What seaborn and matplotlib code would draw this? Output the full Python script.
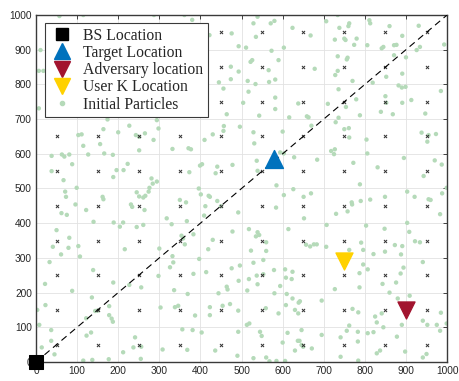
import numpy as np
import pandas as pd
import matplotlib
matplotlib.use("Agg")
import matplotlib.pyplot as plt
import seaborn as sns
from matplotlib.lines import Line2D

# Node positions
bs_xy = (0, 0)
target_xy = (580, 585)
adversary_xy = (900, 150)
user_k_xy = (750, 290)

# Anchor grid (cell centres)
anchor_ticks = [50, 150, 250, 350, 450, 550, 650, 750, 850, 950]

# Reference diagonal
diag_x = [0, 1000]
diag_y = [0, 1000]

axis_ticks = [0, 100, 200, 300, 400, 500, 600, 700, 800, 900, 1000]

# Initial particle cloud (x, y)
particles = [
    (57, 997), (115, 1000), (287, 1000), (11, 899), (7, 839), (18, 839), (7, 731), (174, 699), (294, 697), (227, 681),
    (361, 1000), (380, 986), (476, 947), (539, 995), (529, 976), (571, 976), (580, 983), (535, 937), (493, 910),
    (511, 906), (624, 963), (603, 906), (573, 897), (422, 942), (474, 851), (493, 837), (522, 865), (526, 870),
    (590, 870), (566, 841), (445, 806), (474, 815), (456, 788), (515, 810), (534, 801), (567, 807), (582, 814),
    (517, 779), (504, 747), (582, 762), (582, 729), (543, 710), (464, 714), (616, 705), (638, 745), (457, 680),
    (496, 678),
    (734, 1000), (706, 982), (762, 976), (760, 968), (738, 963), (750, 932), (753, 928), (727, 929), (780, 932),
    (774, 914), (811, 985), (813, 976), (860, 968), (891, 940), (931, 969), (806, 913), (841, 904), (845, 908),
    (871, 913), (877, 914), (934, 908), (926, 899), (993, 915), (668, 941), (734, 881), (758, 877), (756, 872),
    (871, 884), (900, 878), (678, 845), (728, 827), (734, 839), (891, 831), (770, 810), (819, 805), (852, 822),
    (882, 797), (890, 791), (899, 793), (736, 786), (985, 781), (779, 757), (850, 766), (852, 747), (710, 744),
    (754, 735), (788, 711), (839, 721), (868, 714), (891, 747), (913, 755), (947, 716), (736, 704), (659, 708),
    (663, 705), (670, 681), (729, 691),
    (111, 656), (103, 654), (164, 671), (200, 662), (243, 654), (251, 649), (265, 659), (298, 673), (286, 640),
    (115, 623), (156, 628), (251, 610), (38, 594), (63, 598), (69, 592), (81, 598), (127, 598), (166, 601),
    (187, 597), (88, 570), (38, 550), (196, 553), (213, 553), (223, 571), (188, 533), (67, 524), (99, 502),
    (281, 529), (294, 520), (284, 514), (276, 502), (71, 491), (73, 476), (162, 476), (164, 469), (245, 489),
    (251, 477), (261, 474), (266, 479), (274, 491), (96, 454), (231, 454), (234, 447), (264, 438), (122, 438),
    (62, 429), (75, 424), (140, 404), (189, 402), (212, 402), (204, 390), (245, 389), (261, 395), (50, 380),
    (81, 358),
    (456, 666), (430, 656), (529, 662), (600, 664), (410, 640), (531, 630), (332, 614), (371, 616), (377, 613),
    (399, 566), (404, 570), (441, 563), (437, 544), (478, 568), (373, 547), (537, 580), (539, 551), (594, 604),
    (603, 601), (628, 590), (585, 509), (626, 498), (603, 481), (396, 500), (401, 483), (420, 479), (423, 476),
    (441, 464), (350, 467), (365, 460), (412, 449), (450, 449), (584, 445), (492, 431), (409, 422), (318, 414),
    (367, 406), (330, 397), (383, 368), (354, 364), (358, 356), (478, 376), (518, 383), (539, 374), (543, 366),
    (535, 362), (560, 345), (614, 383), (430, 352),
    (750, 671), (761, 674), (762, 647), (804, 641), (938, 661), (955, 654), (973, 657), (952, 635), (718, 608),
    (727, 613), (725, 599), (806, 601), (684, 583), (772, 574), (895, 588), (831, 561), (970, 581), (987, 569),
    (943, 536), (788, 512), (999, 502), (651, 476), (669, 486), (903, 491), (921, 476), (988, 486), (955, 469),
    (960, 467), (849, 476), (813, 468), (790, 464), (768, 460), (769, 454), (758, 434), (730, 427), (652, 414),
    (983, 426), (707, 395), (803, 393), (848, 384), (903, 401), (908, 375), (922, 348), (934, 345),
    (41, 332), (79, 329), (61, 310), (103, 334), (107, 304), (33, 288), (139, 265), (22, 225), (88, 205),
    (188, 229), (216, 325), (300, 327), (298, 248), (256, 215), (227, 222), (136, 186), (23, 164), (3, 150),
    (144, 147), (150, 148), (178, 161), (122, 126), (178, 135), (184, 125), (187, 116), (8, 107), (37, 92),
    (303, 157), (134, 85), (123, 76), (241, 71), (237, 42), (256, 44), (37, 61), (14, 42), (45, 22), (212, 28),
    (308, 36), (115, 4), (137, 6), (177, 8), (255, 9),
    (362, 339), (332, 305), (334, 287), (326, 273), (397, 297), (419, 325), (523, 321), (560, 320), (496, 278),
    (476, 270), (529, 286), (553, 294), (579, 265), (606, 267), (624, 260), (383, 254), (414, 259), (493, 234),
    (518, 239), (537, 249), (539, 224), (553, 253), (608, 243), (622, 239), (594, 219), (336, 207), (369, 196),
    (464, 217), (466, 209), (444, 198), (514, 206), (580, 198), (610, 196), (624, 183),
    (338, 158), (346, 162), (356, 94), (368, 35), (387, 134), (381, 92), (403, 85), (423, 135), (423, 158),
    (454, 162), (472, 167), (436, 33), (490, 18), (492, 87), (492, 148), (513, 107), (519, 111), (529, 11),
    (545, 87), (549, 75), (559, 155), (560, 13), (568, 2), (585, 3), (590, 140), (600, 56), (606, 3), (612, 84),
    (608, 164), (630, 33), (630, 150), (638, 140), (639, 171), (642, 175), (637, 61), (641, 61), (646, 92),
    (646, 49), (650, 44),
    (657, 338), (667, 333), (676, 339), (683, 339), (706, 332), (762, 323), (791, 344), (796, 323), (821, 311),
    (849, 318), (873, 337), (891, 334), (888, 310), (741, 306), (758, 306), (941, 288), (796, 281), (807, 267),
    (787, 256), (894, 272), (887, 255), (876, 229), (843, 225), (860, 200), (787, 215), (727, 210), (909, 191),
    (880, 183),
    (671, 39), (695, 78), (695, 177), (741, 71), (741, 15), (756, 90), (762, 105), (770, 153), (784, 143),
    (783, 87), (783, 59), (784, 4), (807, 83), (821, 86), (825, 131), (829, 114), (829, 25), (837, 33), (841, 140),
    (845, 100), (878, 73), (890, 107), (898, 30), (903, 145), (941, 13), (950, 23), (941, 119), (952, 107),
    (975, 107), (983, 90), (985, 142), (999, 111),
]

particle_color = "#b5dab9"
target_color = "#0072BD"
adversary_color = "#A2142F"
user_k_color = "#FFD100"
axis_color = "#262626"

sns.set_style("white")
plt.rcParams["font.family"] = ["Liberation Sans", "DejaVu Sans"]

fig = plt.figure(figsize=(4.59, 3.81), dpi=100)
ax = fig.add_axes([0.0784, 0.0499, 0.8956, 0.9107])

ax.set_axisbelow(True)
ax.grid(True, color="#e2e2e2", linewidth=0.6)

pdf = pd.DataFrame(particles, columns=["x", "y"])
sns.scatterplot(data=pdf, x="x", y="y", ax=ax, color=particle_color, s=10,
                edgecolor="none", linewidth=0, zorder=2, legend=False)

gx, gy = np.meshgrid(anchor_ticks, anchor_ticks)
sns.scatterplot(x=gx.ravel(), y=gy.ravel(), ax=ax, marker="x", color="#303030",
                s=5, linewidth=0.7, zorder=3, legend=False)

sns.lineplot(x=diag_x, y=diag_y, ax=ax, color="black", linewidth=0.8,
             linestyle=(0, (6, 4)), zorder=3, legend=False)

sns.scatterplot(x=[bs_xy[0]], y=[bs_xy[1]], ax=ax, marker="s", color="black",
                s=90, edgecolor="black", zorder=6, clip_on=False, legend=False)
sns.scatterplot(x=[target_xy[0]], y=[target_xy[1]], ax=ax, marker="^", color=target_color,
                s=165, edgecolor=target_color, zorder=5, legend=False)
sns.scatterplot(x=[adversary_xy[0]], y=[adversary_xy[1]], ax=ax, marker="v", color=adversary_color,
                s=150, edgecolor=adversary_color, zorder=5, legend=False)
sns.scatterplot(x=[user_k_xy[0]], y=[user_k_xy[1]], ax=ax, marker="v", color=user_k_color,
                s=150, edgecolor=user_k_color, zorder=5, legend=False)

ax.set_xlim(0, 1000)
ax.set_ylim(0, 1000)
ax.set_xticks(axis_ticks)
ax.set_yticks(axis_ticks)
ax.set_xlabel("")
ax.set_ylabel("")
ax.tick_params(direction="in", top=True, right=True, length=3, width=0.6,
               labelsize=7.3, colors=axis_color, pad=3)
for side in ax.spines.values():
    side.set_color("#3a3a3a")
    side.set_linewidth(1.0)
    side.set_visible(True)

handles = [
    Line2D([], [], linestyle="none", marker="s", markersize=8.5, color="black"),
    Line2D([], [], linestyle="none", marker="^", markersize=11.5, color=target_color),
    Line2D([], [], linestyle="none", marker="v", markersize=11.5, color=adversary_color),
    Line2D([], [], linestyle="none", marker="v", markersize=11.5, color=user_k_color),
    Line2D([], [], linestyle="none", marker="o", markersize=3, color=particle_color),
]
labels = ["BS Location", "Target Location", "Adversary location", "User K Location", "Initial Particles"]
leg = ax.legend(handles, labels, loc="upper left", bbox_to_anchor=(0.022, 0.977),
                borderaxespad=0, frameon=True, fancybox=False, framealpha=1,
                edgecolor="#3a3a3a", prop={"family": "Liberation Serif", "size": 11.3},
                labelspacing=0.08, handletextpad=0.6, handlelength=1.5, borderpad=0.3)
leg.get_frame().set_linewidth(0.8)
leg.set_zorder(10)

fig.savefig("out.png", dpi=100)
